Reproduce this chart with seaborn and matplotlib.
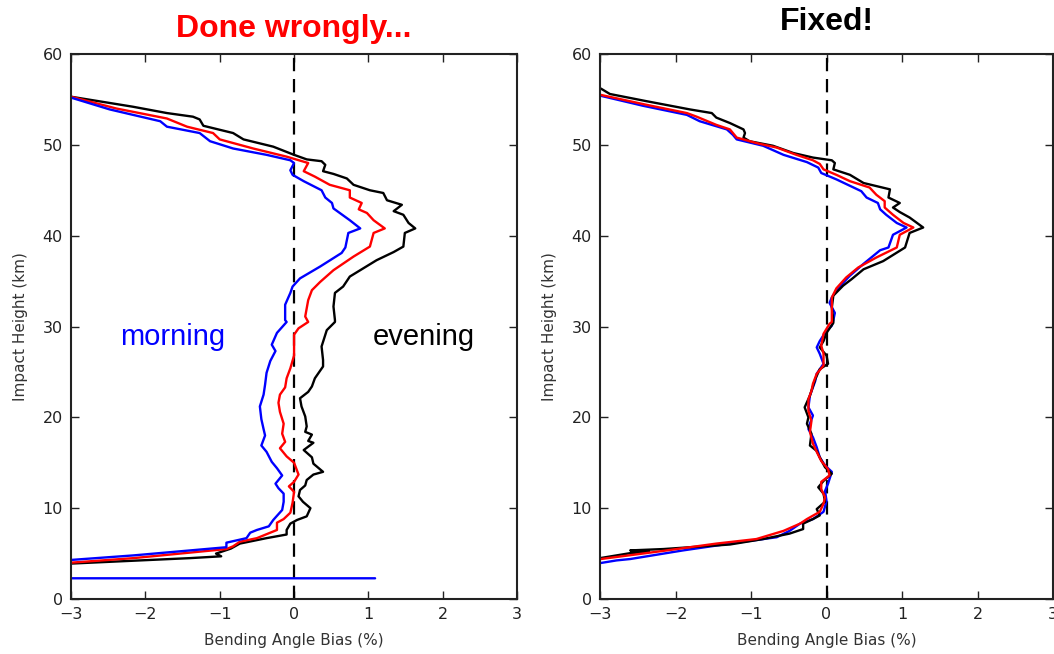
import matplotlib
matplotlib.use("Agg")
import matplotlib.pyplot as plt
import seaborn as sns
import pandas as pd

# ---------------- data ----------------
# Left panel ("Done wrongly...")
wrong_evening_x = [-3.0, -2.17, -1.71, -1.36, -1.27, -1.22, -0.82, -0.68, -0.28, 0.0, 0.17, 0.37, 0.42, 0.39,
                   0.53, 0.71, 0.80, 1.02, 1.20, 1.25, 1.45, 1.34, 1.47, 1.54, 1.63, 1.49, 1.47, 1.34, 1.11,
                   0.89, 0.75, 0.66, 0.55, 0.53, 0.55, 0.55, 0.44, 0.37, 0.39, 0.39, 0.28, 0.24, 0.19, 0.08,
                   0.10, 0.15, 0.17, 0.15, 0.24, 0.19, 0.26, 0.13, 0.24, 0.26, 0.39, 0.26, 0.17, 0.15, 0.08,
                   0.06, 0.12, 0.22, 0.17, 0.04, -0.05, -0.10, -0.10, -0.37, -0.55, -0.73, -0.85, -1.05,
                   -0.98, -1.4, -2.2, -3.0]
wrong_evening_h = [55.3, 54.2, 53.5, 53.1, 52.8, 52.1, 51.3, 50.6, 49.8, 48.9, 48.4, 48.2, 47.8, 47.1,
                   46.8, 46.3, 45.6, 45.0, 44.7, 43.9, 43.4, 42.7, 42.3, 41.4, 40.8, 40.3, 38.8, 38.2, 37.3,
                   36.2, 35.5, 34.4, 33.7, 32.2, 30.7, 30.5, 29.6, 27.8, 26.3, 25.6, 24.3, 23.4, 22.8, 22.1,
                   21.2, 20.1, 19.0, 18.4, 18.1, 17.4, 17.2, 16.4, 15.6, 14.9, 14.0, 13.7, 13.1, 12.5, 12.0,
                   11.3, 10.7, 10.0, 9.1, 8.7, 8.3, 7.6, 7.1, 6.7, 6.4, 6.1, 5.55, 5.0,
                   4.7, 4.5, 4.2, 3.9]

wrong_mid_x = [-3.0, -2.39, -1.71, -1.44, -1.09, -1.00, -0.55, -0.10, 0.19, 0.13, 0.28, 0.48, 0.75, 0.75,
               0.91, 0.87, 0.98, 1.07, 1.22, 1.07, 1.02, 0.80, 0.53, 0.35, 0.24, 0.19, 0.15, 0.19, 0.06,
               0.0, 0.0, -0.05, -0.10, -0.12, -0.19, -0.21, -0.19, -0.14, -0.16, -0.12, -0.19, -0.10, 0.0,
               0.06, 0.0, -0.07, 0.0, -0.02, -0.05, -0.14, -0.23, -0.23, -0.32, -0.50, -0.73, -0.82, -0.91,
               -2.16, -3.0]
wrong_mid_h = [55.3, 54.0, 52.9, 52.0, 51.3, 50.6, 49.6, 48.7, 48.0, 47.1, 46.5, 45.6, 45.0, 44.2,
               43.6, 42.9, 42.5, 41.7, 40.8, 40.3, 38.8, 37.7, 36.2, 34.9, 34.0, 32.9, 31.1, 30.5, 29.8,
               29.1, 26.8, 25.4, 24.3, 23.3, 22.5, 21.6, 20.6, 19.3, 18.2, 17.3, 16.6, 15.7, 15.0,
               13.7, 12.9, 12.4, 11.8, 10.6, 9.5, 8.8, 8.4, 7.6, 7.3, 6.7, 6.3, 5.8, 5.5,
               4.5, 4.0]

wrong_morning_x = [-3.0, -2.48, -1.80, -1.71, -1.27, -1.13, -0.82, -0.37, -0.05, 0.0, -0.05, -0.02, 0.13,
                   0.37, 0.42, 0.51, 0.53, 0.75, 0.89, 0.73, 0.69, 0.64, 0.35, 0.08, -0.02, -0.05, -0.12,
                   -0.12, -0.10, -0.23, -0.30, -0.25, -0.32, -0.37, -0.39, -0.41, -0.46, -0.44, -0.41, -0.39,
                   -0.44, -0.37, -0.30, -0.23, -0.16, -0.25, -0.21, -0.14, -0.14, -0.16, -0.28, -0.34, -0.50,
                   -0.59, -0.64, -0.91, -0.91, -2.16, -3.0, -3.4, -5.0, 1.09]
wrong_morning_h = [55.2, 53.9, 52.6, 52.0, 51.3, 50.4, 49.6, 48.9, 48.3, 48.0, 47.2, 46.7, 46.0,
                   45.0, 44.2, 43.6, 43.0, 41.7, 40.8, 40.3, 38.7, 38.1, 36.6, 35.3, 34.4, 33.7, 32.4,
                   30.7, 30.5, 29.3, 28.0, 27.3, 26.2, 24.9, 23.6, 22.5, 21.2, 19.8, 18.7, 18.0,
                   16.9, 16.2, 15.1, 14.4, 13.6, 12.7, 12.2, 11.6, 10.7, 9.8, 8.7, 8.0, 7.6,
                   7.3, 6.7, 6.2, 5.7, 4.8, 4.3, 4.2, 2.28, 2.28]

# Right panel ("Fixed!")
fixed_evening_x = [-2.99, -2.87, -2.38, -1.81, -1.52, -1.46, -1.28, -1.10, -1.08, -1.10, -1.02, -0.71, -0.44,
                   -0.18, 0.07, 0.11, 0.09, 0.31, 0.49, 0.84, 0.82, 0.97, 0.88, 0.97, 1.10, 1.28, 1.10, 1.04,
                   0.75, 0.49, 0.33, 0.22, 0.09, 0.07, 0.09, 0.09, 0.0, -0.04, -0.09, 0.0, 0.02, -0.09, -0.15,
                   -0.22, -0.29, -0.24, -0.26, -0.20, -0.22, -0.13, -0.09, -0.02, 0.07, -0.04, -0.11, -0.04,
                   -0.02, -0.13, -0.09, -0.18, -0.31, -0.31, -0.49, -0.84, -1.28, -2.16, -2.60, -2.35, -2.60,
                   -3.0]
fixed_evening_h = [56.2, 55.6, 54.8, 53.9, 53.5, 53.0, 52.4, 51.7, 51.3, 50.8, 50.4, 49.9, 49.1,
                   48.6, 48.3, 48.0, 47.3, 46.7, 45.8, 45.1, 44.2, 43.6, 43.1, 42.6, 42.0, 40.9, 40.3, 38.7,
                   37.2, 36.3, 35.2, 34.5, 33.4, 32.1, 30.7, 30.4, 29.3, 28.4, 27.7, 26.8, 25.9, 25.3, 24.2,
                   22.4, 21.1, 20.0, 19.3, 18.2, 16.9, 16.3, 15.6, 14.5, 13.8, 13.0, 12.3, 11.6,
                   10.7, 9.9, 9.2, 8.8, 8.3, 7.7, 7.2, 6.6, 6.0, 5.5, 5.35, 5.2, 5.05,
                   4.5]

fixed_mid_x = [-2.99, -2.38, -1.85, -1.72, -1.46, -1.28, -1.19, -0.93, -0.66, -0.40, -0.18, -0.09, -0.04,
               0.13, 0.31, 0.57, 0.66, 0.77, 0.77, 0.88, 1.02, 1.15, 0.97, 0.93, 0.66, 0.42, 0.26, 0.13,
               0.07, 0.07, 0.07, 0.04, -0.04, -0.07, -0.04, -0.04, -0.13, -0.18, -0.20, -0.24, -0.24,
               -0.20, -0.22, -0.18, -0.13, -0.07, 0.02, 0.04, -0.07, -0.07, -0.02, -0.04, -0.09, -0.26,
               -0.35, -0.57, -0.93, -1.46, -2.16, -2.99]
fixed_mid_h = [55.5, 54.4, 53.5, 53.1, 52.2, 51.7, 50.8, 50.2, 49.7, 48.9, 48.3, 47.9, 47.3,
               46.7, 46.0, 45.3, 44.5, 43.8, 43.1, 42.3, 41.4, 40.9, 40.1, 38.7, 37.6, 36.5, 35.4, 34.2,
               33.2, 31.7, 30.5, 30.3, 29.2, 27.9, 27.0, 25.7, 24.8, 23.7, 22.9, 22.0, 20.7,
               19.6, 18.4, 17.1, 16.2, 15.2, 14.3, 13.6, 12.9, 12.1, 11.2, 10.5, 9.6, 8.8,
               8.3, 7.5, 6.6, 6.1, 5.3, 4.4]

fixed_morning_x = [-2.99, -2.43, -1.85, -1.68, -1.32, -1.24, -1.19, -0.84, -0.57, -0.26, -0.11, -0.07, 0.13,
                   0.46, 0.53, 0.68, 0.71, 0.79, 0.93, 1.06, 0.88, 0.82, 0.71, 0.49, 0.31, 0.15, 0.07, 0.04,
                   0.11, 0.09, 0.07, -0.02, -0.09, -0.13, -0.09, -0.04, -0.13, -0.15, -0.22, -0.24, -0.18,
                   -0.22, -0.24, -0.18, -0.13, -0.09, -0.02, 0.07, 0.02, -0.02, 0.0, -0.04, -0.18, -0.35,
                   -0.49, -0.66, -1.28, -1.90, -2.60, -2.78, -3.0]
fixed_morning_h = [55.4, 54.3, 53.3, 52.6, 51.7, 51.1, 50.6, 49.9, 48.9, 48.1, 47.5, 46.9, 46.2,
                   44.9, 44.2, 43.6, 42.9, 42.3, 41.4, 40.9, 40.1, 38.7, 38.4, 36.9, 35.6, 34.2, 33.2, 32.6,
                   31.5, 30.7, 30.1, 29.3, 28.4, 27.7, 27.0, 25.9, 24.8, 24.0, 22.4, 21.1, 20.2,
                   19.3, 18.7, 17.8, 16.7, 15.6, 14.7, 14.0, 12.7, 11.9, 10.8, 9.6, 8.8, 8.3,
                   7.5, 6.8, 6.1, 5.35, 4.4, 4.25, 3.95]

panel_titles = ["Done wrongly...", "Fixed!"]
title_colors = ["#ff0000", "#000000"]
title_pads = [12, 17]
series_colors = {"evening": "#000000", "mid": "#ff0000", "morning": "#0000ff"}
x_ticks = [-3, -2, -1, 0, 1, 2, 3]
y_ticks = [0, 10, 20, 30, 40, 50, 60]

# ---------------- figure ----------------
sns.set_style("ticks")
plt.rcParams["font.family"] = ["DejaVu Sans"]
plt.rcParams["xtick.direction"] = "in"
plt.rcParams["ytick.direction"] = "in"

fig = plt.figure(figsize=(10.54, 6.54), dpi=100)
ax_l = fig.add_axes([0.0674, 0.0841, 0.4232, 0.8333])
ax_r = fig.add_axes([0.5693, 0.0841, 0.4298, 0.8333])

panels = [
    (ax_l, [("evening", wrong_evening_x, wrong_evening_h),
            ("mid", wrong_mid_x, wrong_mid_h),
            ("morning", wrong_morning_x, wrong_morning_h)]),
    (ax_r, [("morning", fixed_morning_x, fixed_morning_h),
            ("evening", fixed_evening_x, fixed_evening_h),
            ("mid", fixed_mid_x, fixed_mid_h)]),
]

for i, (ax, series) in enumerate(panels):
    for name, xs, hs in series:
        df = pd.DataFrame({"bias": xs, "height": hs})
        sns.lineplot(data=df, x="bias", y="height", sort=False, estimator=None,
                     color=series_colors[name], lw=1.7, ax=ax)
    ax.axvline(0, color="black", lw=1.6, linestyle=(0, (6, 3.5)), zorder=1)
    ax.set_xlim(-3, 3)
    ax.set_ylim(0, 60)
    ax.set_xticks(x_ticks)
    ax.set_yticks(y_ticks)
    ax.set_xticklabels([("\u2212%d" % -t) if t < 0 else str(t) for t in x_ticks])
    ax.tick_params(axis="both", which="major", length=6, width=1.0, labelsize=11.5,
                   top=True, right=True, colors="#222222", pad=6)
    for sp in ax.spines.values():
        sp.set_visible(True)
        sp.set_linewidth(1.5)
        sp.set_color("#222222")
    ax.set_xlabel("Bending Angle Bias (%)", fontsize=11, color="#333333", labelpad=8)
    ax.set_ylabel("Impact Height (km)", fontsize=11, color="#333333", labelpad=10)
    ax.set_title(panel_titles[i], fontsize=23, fontweight="bold", color=title_colors[i],
                 family=["Liberation Sans", "DejaVu Sans"], pad=title_pads[i])

ax_l.text(-1.64, 28.9, "morning", color="#0000ff", fontsize=21, ha="center", va="center",
          family=["Liberation Sans", "DejaVu Sans"])
ax_l.text(1.74, 28.9, "evening", color="#000000", fontsize=21, ha="center", va="center",
          family=["Liberation Sans", "DejaVu Sans"])

fig.savefig("out.png", dpi=100)
